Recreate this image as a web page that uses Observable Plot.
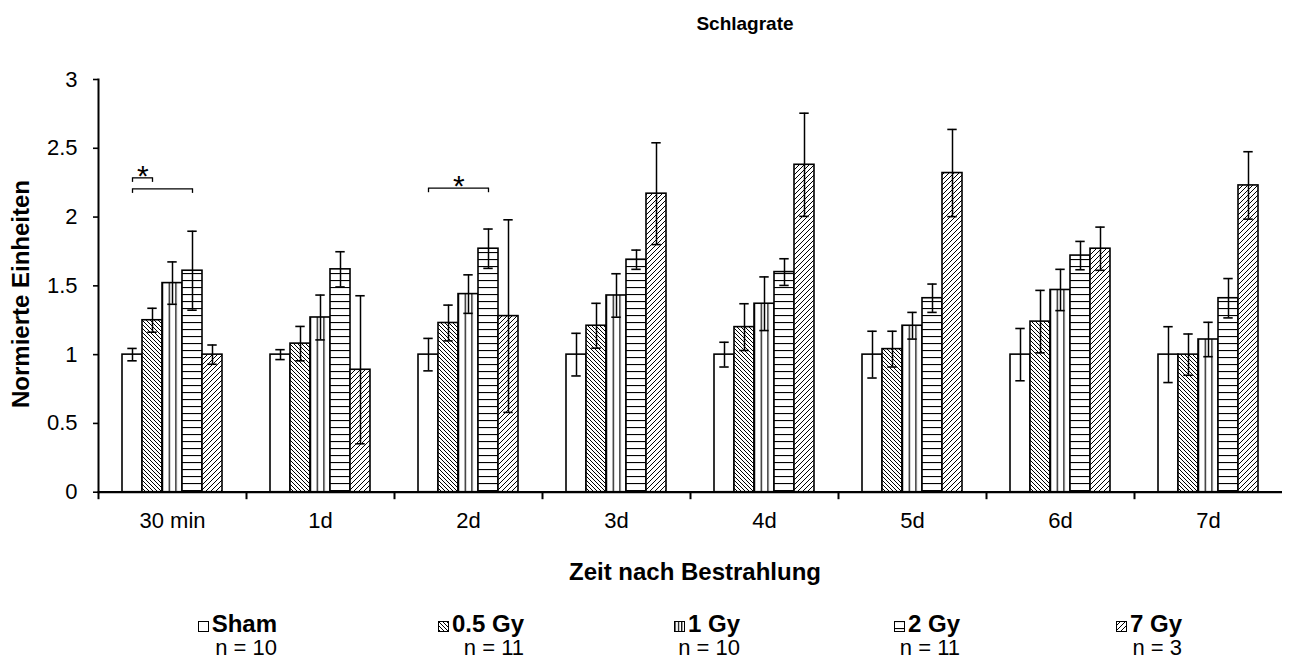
<!DOCTYPE html>
<html>
<head>
<meta charset="utf-8">
<script src="https://cdn.jsdelivr.net/npm/d3@7"></script>
<script src="https://cdn.jsdelivr.net/npm/@observablehq/plot@0.6"></script>
<style>
  html, body { margin: 0; padding: 0; background: #fff; }
  body { font-family: "Liberation Sans", Arial, sans-serif; color: #000; }
  #wrap { position: relative; width: 1291px; height: 662px; overflow: hidden; }
  #chart { position: absolute; left: 0; top: 0; }
  #title { position: absolute; left: 645px; width: 200px; top: 14px; text-align: center;
           font-size: 19px; line-height: 19px; font-weight: bold; }
  #xlabel { position: absolute; left: 495px; width: 400px; top: 560px; text-align: center;
            font-size: 24px; line-height: 24px; font-weight: bold; }
  #ylabel { position: absolute; left: -179px; top: 282px; width: 400px; height: 24px; text-align: center;
            font-size: 24px; line-height: 24px; font-weight: bold; transform: rotate(-90deg); }
  .item { position: absolute; top: 612px; text-align: right; white-space: nowrap; }
  .item .l1 { font-size: 24px; line-height: 24px; font-weight: bold; }
  .item .l2 { font-size: 22px; line-height: 24px; }
  .item svg { vertical-align: 0px; margin-right: 3px; }
</style>
</head>
<body>
<svg width="0" height="0" style="position:absolute">
  <defs>
    <pattern id="pS" patternUnits="userSpaceOnUse" width="4" height="4">
      <rect width="4" height="4" fill="#fff"/>
    </pattern>
    <pattern id="p05" patternUnits="userSpaceOnUse" width="4" height="4">
      <rect width="4" height="4" fill="#fff"/>
      <path d="M-1,-1L5,5M3,-1L5,1M-1,3L1,5" stroke="#000" stroke-width="1"/>
    </pattern>
    <pattern id="p1" patternUnits="objectBoundingBox" x="0" y="0" width="0.3333" height="1">
      <rect width="200" height="2000" fill="#fff"/>
      <line x1="0" y1="0" x2="0" y2="2000" stroke="#000" stroke-width="2.4"/>
    </pattern>
    <pattern id="p2" patternUnits="userSpaceOnUse" width="8" height="7">
      <rect width="8" height="7" fill="#fff"/>
      <line x1="0" y1="0.5" x2="8" y2="0.5" stroke="#000" stroke-width="1.2"/>
    </pattern>
    <pattern id="p7" patternUnits="userSpaceOnUse" width="5" height="5">
      <rect width="5" height="5" fill="#fff"/>
      <path d="M-1,6L6,-1M-1,1L1,-1M4,6L6,4" stroke="#000" stroke-width="1"/>
    </pattern>
  </defs>
</svg>
<div id="wrap">
  <div id="chart"></div>
  <div id="title">Schlagrate</div>
  <div id="ylabel">Normierte Einheiten</div>
  <div id="xlabel">Zeit nach Bestrahlung</div>
  <div id="legend"></div>
</div>
<script>
// ---------- data ----------
const times = ["30 min", "1d", "2d", "3d", "4d", "5d", "6d", "7d"];
const groups = ["Sham", "0.5 Gy", "1 Gy", "2 Gy", "7 Gy"];
const groupN = [10, 11, 10, 11, 3];

const meanSham = [1.00, 1.00, 1.00, 1.00, 1.00, 1.00, 1.00, 1.00];
const mean05   = [1.25, 1.08, 1.23, 1.21, 1.20, 1.04, 1.24, 1.00];
const mean1    = [1.52, 1.27, 1.44, 1.43, 1.37, 1.21, 1.47, 1.11];
const mean2    = [1.61, 1.62, 1.77, 1.69, 1.60, 1.41, 1.72, 1.41];
const mean7    = [1.00, 0.89, 1.28, 2.17, 2.38, 2.32, 1.77, 2.23];

const errSham = [0.045, 0.036, 0.118, 0.155, 0.090, 0.170, 0.190, 0.203];
const err05   = [0.087, 0.125, 0.130, 0.163, 0.170, 0.130, 0.227, 0.150];
const err1    = [0.154, 0.163, 0.140, 0.158, 0.195, 0.097, 0.150, 0.125];
const err2    = [0.287, 0.128, 0.143, 0.070, 0.097, 0.103, 0.103, 0.143];
const err7    = [0.070, 0.538, 0.700, 0.370, 0.375, 0.317, 0.157, 0.245];

const yTicks = [0, 0.5, 1, 1.5, 2, 2.5, 3];

// significance brackets (from group, to group, height)
const bracketTime = ["30 min", "30 min", "2d"];
const bracketFrom = ["Sham", "Sham", "Sham"];
const bracketTo   = ["0.5 Gy", "2 Gy", "2 Gy"];
const bracketY    = [2.285, 2.205, 2.21];
const starTime = ["30 min", "2d"];
const starAt   = ["Sham", "0.5 Gy"];
const starY    = [2.356, 2.283];

// ---------- build tables ----------
const patternIds = ["pS", "p05", "p1", "p2", "p7"];
const means = [meanSham, mean05, mean1, mean2, mean7];
const errs = [errSham, err05, err1, err2, err7];
const rows = groups.flatMap((g, j) => times.map((t, i) => ({
  time: t, group: g, v: means[j][i], e: errs[j][i], fill: `url(#${patternIds[j]})`
})));
const brackets = bracketTime.map((t, k) => ({time: t, from: bracketFrom[k], to: bracketTo[k], y: bracketY[k]}));
const stars = starTime.map((t, k) => ({time: t, at: starAt[k], y: starY[k]}));
const capLen = 0.033;

const H = 600, mTop = 79, mBottom = H - 491.7;

const chart = Plot.plot({
  width: 1291,
  height: H,
  marginTop: mTop,
  marginBottom: mBottom,
  marginLeft: 96,
  marginRight: 8,
  style: {fontFamily: '"Liberation Sans", Arial, sans-serif', color: "#000", background: "transparent", overflow: "visible"},
  fx: {domain: times, padding: 0},
  x: {domain: groups, paddingInner: 0, paddingOuter: 1.1, axis: null},
  y: {domain: [0, 3]},
  color: {type: "identity"},
  marks: [
    Plot.barY(rows, {fx: "time", x: "group", y: "v", fill: "fill", stroke: "#000", strokeWidth: 1.6}),
    Plot.ruleX(rows, {fx: "time", x: "group", y1: d => d.v - d.e, y2: d => d.v + d.e, stroke: "#000", strokeWidth: 1.5}),
    Plot.tickY(rows, {fx: "time", x: "group", y: d => d.v + d.e, insetLeft: 5.3, insetRight: 5.3, stroke: "#000", strokeWidth: 1.6}),
    Plot.tickY(rows, {fx: "time", x: "group", y: d => d.v - d.e, insetLeft: 5.3, insetRight: 5.3, stroke: "#000", strokeWidth: 1.6}),
    Plot.ruleY([0], {stroke: "#000", strokeWidth: 2.2}),
    Plot.frame({anchor: "left", facetAnchor: "left", stroke: "#000", strokeWidth: 2}),
    Plot.frame({anchor: "left", insetTop: 491.7 - mTop, insetBottom: -6, stroke: "#000", strokeWidth: 2}),
    Plot.link(brackets, {fx: "time", x1: "from", x2: "to", y1: "y", y2: "y", stroke: "#000", strokeWidth: 1.3}),
    Plot.ruleX(brackets, {fx: "time", x: "from", y1: "y", y2: d => d.y - capLen, stroke: "#000", strokeWidth: 1.3}),
    Plot.ruleX(brackets, {fx: "time", x: "to", y1: "y", y2: d => d.y - capLen, stroke: "#000", strokeWidth: 1.3}),
    Plot.text(stars, {fx: "time", x: "at", y: "y", text: () => "*", dx: 10.3, dy: 8, fontSize: 30, fill: "#000"}),
    Plot.axisY({ticks: yTicks, tickFormat: d => String(d), tickSize: 5, tickPadding: 16, fontSize: 22, strokeWidth: 1.6, label: null}),
    Plot.axisFx({anchor: "bottom", tickSize: 0, tickPadding: 20, fontSize: 22, label: null})
  ]
});
document.getElementById("chart").appendChild(chart);

// ---------- legend ----------
const legendRight = [277, 524, 740, 960, 1182];
const legend = document.getElementById("legend");
groups.forEach((g, j) => {
  const item = document.createElement("div");
  item.className = "item";
  item.style.right = (1291 - legendRight[j]) + "px";
  item.innerHTML =
    `<div class="l1"><svg width="11" height="11"><rect x="0.5" y="0.5" width="10" height="10" fill="url(#${patternIds[j]})" stroke="#000" stroke-width="1"/></svg>${g}</div>` +
    `<div class="l2">n = ${groupN[j]}</div>`;
  legend.appendChild(item);
});
</script>
</body>
</html>
